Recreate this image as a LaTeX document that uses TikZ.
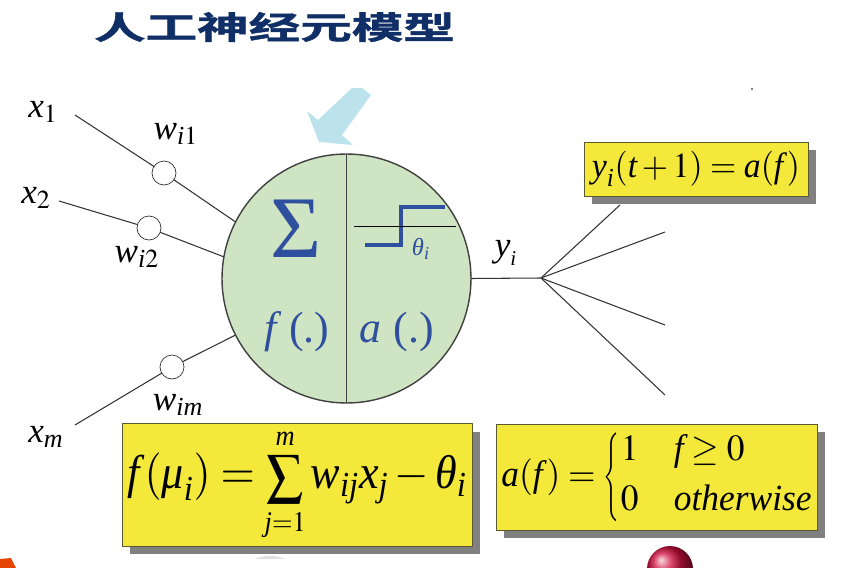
\documentclass[tikz,border=0pt]{standalone}
\usepackage{amsmath}
\usepackage{graphicx}
\usepackage{mathptmx}
\usepackage{fontspec}
\setmainfont{Liberation Serif}
\newfontfamily\cjk{Noto Sans CJK SC}[BoldFont={Noto Sans CJK SC Bold}, BoldFeatures={FakeBold=1.2}]
\usetikzlibrary{shadows}
\definecolor{titleblue}{HTML}{0F2F66}
\definecolor{arrowblue}{HTML}{BCE2EC}
\definecolor{cellgreen}{HTML}{CFE4C3}
\definecolor{inkblue}{HTML}{2F4F9F}
\definecolor{boxyellow}{HTML}{F4E93A}
\definecolor{boxline}{HTML}{5A5A30}
\definecolor{boxshadow}{HTML}{808080}
\definecolor{ballred}{HTML}{D0103F}
\newcommand{\iv}[1]{\textit{#1}}
\tikzset{
    label/.style={inner sep=0pt, font=\fontsize{20}{22}\selectfont},
    cell/.style={inner sep=0pt, text=inkblue, font=\fontsize{25}{28}\selectfont},
    weight/.style={circle, draw=black!80, thin, fill=white, inner sep=0pt, outer sep=0pt, minimum size=.48cm},
    formula/.style={rectangle, draw=boxline, fill=boxyellow, inner sep=0pt, outer sep=0pt,
        general shadow={fill=boxshadow, shadow xshift=.16cm, shadow yshift=-.16cm}},
    wire/.style={draw=black!80, line width=.6pt},
}
\begin{document}
\begin{tikzpicture}[x=.02cm, y=-.02cm]
    \useasboundingbox (0,0) rectangle (850,568);
    \clip (0,0) rectangle (850,568);
    %Titel
    \node[inner sep=0pt, text=titleblue, xscale=1.63, font=\cjk\bfseries\fontsize{18}{20}\selectfont] (title) at (274.5,27) {人工神经元模型};
    %Pfeil
    \fill[arrowblue] (352,88) -- (362,88) -- (371,95) -- (342,135) -- (353,145) -- (319,142) -- (307,111) -- (318,120) -- cycle;
    %Neuron
    \node[circle, draw=black!75, line width=.8pt, fill=cellgreen, inner sep=0pt, outer sep=0pt, minimum size=4.98cm] (neuron) at (346.5,278.5) {};
    \draw[black!75, line width=.8pt] (neuron.north) -- (neuron.south);
    \node[cell, font=\fontsize{50}{52}\selectfont] (sigma) at (296,229) {Σ};
    \node[cell] (fdot) at (297,332) {\iv{f}\,(.)};
    \node[cell] (adot) at (397,332) {\iv{a}\;(.)};
    \node[cell, font=\fontsize{14}{16}\selectfont] (theta) at (421,249) {$\iv{θ}_{\iv{i}}$};
    \draw[inkblue, line width=1.8pt] (365,245) -- (401,245) -- (401,207) -- (445,207);
    \draw[black, line width=.4pt] (354,226) -- (456,226);
    %Eingaenge
    \node[weight] (w1) at (164,173) {};
    \node[weight] (w2) at (149,228) {};
    \node[weight] (wm) at (172,367) {};
    \coordinate (in1) at (75,115);
    \coordinate (in2) at (59,201);
    \coordinate (inm) at (75,425);
    \draw[wire] (in1) -- (w1) (w1) -- (neuron.153);
    \draw[wire] (in2) -- (w2) (w2) -- (neuron.170);
    \draw[wire] (inm) -- (wm) (wm) -- (neuron.207);
    \node[label] (x1) at (43,112) {$\iv{x}_{1}$};
    \node[label] (x2) at (36,198) {$\iv{x}_{2}$};
    \node[label] (xm) at (46,437) {$\iv{x}_{\iv{m}}$};
    \node[label] (lw1) at (176,134) {$\iv{w}_{\iv{i}1}$};
    \node[label] (lw2) at (137,257) {$\iv{w}_{\iv{i}2}$};
    \node[label] (lwm) at (178,405) {$\iv{w}_{\iv{im}}$};
    %Ausgang
    \coordinate (hub) at (541,278);
    \draw[wire] (neuron.east) -- (hub);
    \node[label] (yi) at (506,253) {$\iv{y}_{\scriptscriptstyle\iv{i}}$};
    \foreach[count=\n] \a/\b in {620/205, 665/232, 665/325, 665/395} {
        \coordinate (out\n) at (\a,\b);
        \draw[wire] (hub) -- (out\n);
    }
    %Formeln
    \node[formula, minimum width=4.48cm, minimum height=1.08cm, font=\fontsize{20}{22}\selectfont] (fy) at (696,169) {\scalebox{.96}[1]{$\iv{y}_{\iv{i}}(\iv{t}+1)=\iv{a}(\iv{f}\,)$}};
    \node[formula, minimum width=7cm, minimum height=2.46cm, font=\fontsize{27}{30}\selectfont] (ff) at (297,485) {\scalebox{.93}[1]{$\displaystyle \iv{f}\,(\iv{μ}_{\iv{i}})=\mathop{\scalebox{.82}{$\displaystyle\sum$}}\limits_{\scriptscriptstyle\iv{j}=1}^{\scriptscriptstyle\iv{m}}\iv{w}_{\iv{ij}}\iv{x}_{\iv{j}}-\iv{θ}_{\iv{i}}$}};
    \node[formula, minimum width=6.42cm, minimum height=2.12cm, font=\fontsize{21}{24}\selectfont] (fa) at (656.5,477) {\scalebox{.96}[1]{$\iv{a}(\iv{f}\,)=\scalebox{.6}[1]{$\left\{\rule{0pt}{.95cm}\right.$}\begin{array}{@{}l@{\quad}l@{}}1 & \iv{f}\geq 0\\[4pt] 0 & \iv{otherwise}\end{array}$}};
    %Reste unten
    \shade[ball color=ballred] (670,569) circle (23);
    \fill[orange!60!red!90!black] (0,559) -- (11,558) -- (16,568) -- (0,568) -- cycle;
    \fill[black!12] (255,559) .. controls (262,555) and (278,555) .. (285,559) -- cycle;
    \fill[black] (752,89) circle (.8);
\end{tikzpicture}
\end{document}
